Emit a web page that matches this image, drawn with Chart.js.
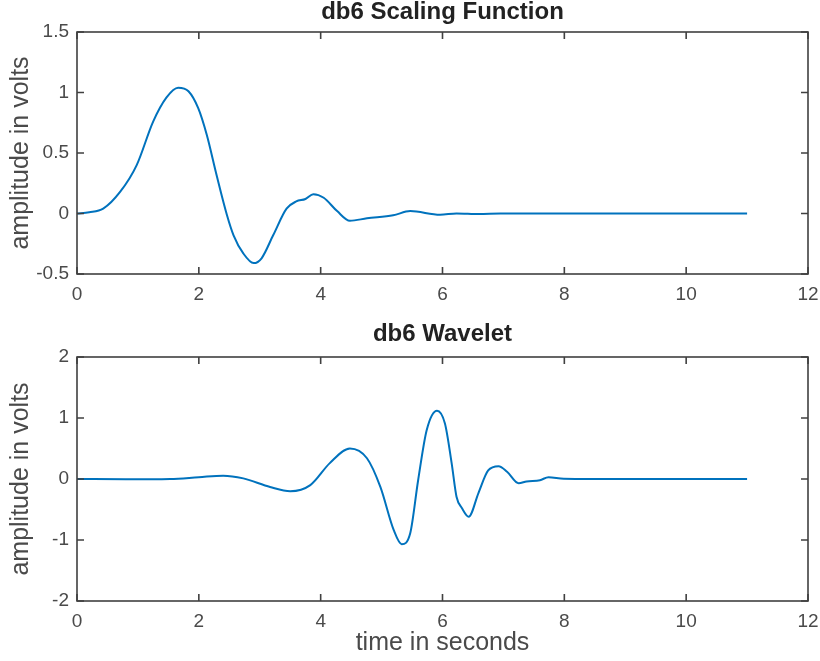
<!DOCTYPE html>
<html>
<head>
<meta charset="utf-8">
<script src="https://cdn.jsdelivr.net/npm/chart.js@4"></script>
<style>
  html, body { margin: 0; padding: 0; background: #fff; }
  .plot { position: absolute; left: 0; width: 820px; }
</style>
</head>
<body>
<div class="plot" style="top:0;height:320px"><canvas id="scaling" width="820" height="320"></canvas></div>
<div class="plot" style="top:320px;height:341px"><canvas id="wavelet" width="820" height="341"></canvas></div>
<script>
// db6 scaling function (phi)
const phiTime = [0, 0.2, 0.43, 0.71, 0.98, 1.25, 1.47, 1.66, 1.83, 1.99, 2.13, 2.29, 2.46, 2.57, 2.73, 2.9, 3.03, 3.22, 3.44, 3.6, 3.75, 3.88, 4.05, 4.27, 4.48, 4.76, 5.19, 5.47, 5.96, 6.23, 6.6, 6.95, 8, 9, 10, 11]
const phiAmp = [0, 0.01, 0.04, 0.18, 0.40, 0.76, 0.96, 1.04, 1.01, 0.87, 0.65, 0.32, -0.01, -0.18, -0.33, -0.41, -0.37, -0.18, 0.04, 0.10, 0.12, 0.16, 0.13, 0.02, -0.06, -0.04, -0.015, 0.02, -0.01, 0, -0.005, 0, 0, 0, 0, 0]

// db6 wavelet (psi)
const psiTime = [0, 0.8, 1.53, 2.0, 2.4, 2.73, 3.17, 3.5, 3.83, 4.15, 4.48, 4.76, 4.98, 5.2, 5.33, 5.47, 5.6, 5.74, 5.91, 6.04, 6.15, 6.23, 6.32, 6.43, 6.59, 6.75, 6.92, 7.06, 7.25, 7.38, 7.6, 7.74, 7.99, 9, 10, 11]
const psiAmp = [0, -0.005, 0, 0.03, 0.055, 0.01, -0.13, -0.2, -0.1, 0.26, 0.50, 0.34, -0.13, -0.84, -1.07, -0.89, -0.02, 0.80, 1.12, 0.91, 0.26, -0.29, -0.48, -0.62, -0.23, 0.14, 0.21, 0.12, -0.07, -0.04, -0.02, 0.03, 0.005, 0, 0, 0]

const xTicks = [0, 2, 4, 6, 8, 10, 12]
const phiTicks = [-0.5, 0, 0.5, 1, 1.5]
const psiTicks = [-2, -1, 0, 1, 2]

const lineColor = '#0072BD'
const axisColor = '#404040'
const textColor = '#4a4a4a'
const fontFamily = '"Liberation Sans", Arial, Helvetica, sans-serif'

// matlab-like box with inward ticks on all four sides
const boxPlugin = {
  id: 'box',
  afterDraw(chart) {
    const {ctx, chartArea: a, scales: {x, y}} = chart
    const len = 7
    ctx.save()
    ctx.strokeStyle = axisColor
    ctx.lineWidth = 1.6
    ctx.strokeRect(a.left, a.top, a.width, a.height)
    ctx.beginPath()
    x.ticks.forEach(t => {
      const px = x.getPixelForValue(t.value)
      ctx.moveTo(px, a.bottom); ctx.lineTo(px, a.bottom - len)
      ctx.moveTo(px, a.top); ctx.lineTo(px, a.top + len)
    })
    y.ticks.forEach(t => {
      const py = y.getPixelForValue(t.value)
      ctx.moveTo(a.left, py); ctx.lineTo(a.left + len, py)
      ctx.moveTo(a.right, py); ctx.lineTo(a.right - len, py)
    })
    ctx.stroke()
    ctx.restore()
  }
}

function makePlot(canvas, title, times, amps, yTicks, opts) {
  return new Chart(canvas, {
    type: 'line',
    data: {
      datasets: [{
        data: times.map((t, i) => ({x: t, y: amps[i]})),
        borderColor: lineColor,
        borderWidth: 2,
        pointRadius: 0,
        fill: false,
        cubicInterpolationMode: 'monotone'
      }]
    },
    options: {
      responsive: false,
      animation: false,
      devicePixelRatio: 1,
      layout: {padding: {left: 0, right: 12, top: 0, bottom: 0}},
      plugins: {
        legend: {display: false},
        tooltip: {enabled: false},
        title: {
          display: true,
          text: title,
          fullSize: false,
          color: '#222',
          font: {family: fontFamily, size: 24, weight: 'bold', lineHeight: 1},
          padding: {top: opts.titleTop, bottom: opts.titleBottom}
        }
      },
      scales: {
        x: {
          type: 'linear',
          min: 0, max: 12,
          grid: {display: false, drawTicks: false},
          border: {display: false},
          afterBuildTicks: s => { s.ticks = xTicks.map(v => ({value: v})) },
          afterFit: s => { s.height = opts.xHeight; s.paddingLeft = 0; s.paddingRight = 0 },
          ticks: {
            color: textColor,
            padding: 9,
            maxRotation: 0,
            font: {family: fontFamily, size: 19},
            callback: v => String(v)
          },
          title: {
            display: !!opts.xTitle,
            text: opts.xTitle || '',
            color: textColor,
            font: {family: fontFamily, size: 25},
            padding: {top: 0, bottom: 3}
          }
        },
        y: {
          type: 'linear',
          min: yTicks[0], max: yTicks[yTicks.length - 1],
          grid: {display: false, drawTicks: false},
          border: {display: false},
          afterBuildTicks: s => { s.ticks = yTicks.map(v => ({value: v})) },
          afterFit: s => { s.width = 77 },
          ticks: {
            color: textColor,
            padding: 8,
            font: {family: fontFamily, size: 19},
            callback: v => String(v)
          },
          title: {
            display: true,
            text: 'amplitude in volts',
            color: textColor,
            font: {family: fontFamily, size: 25},
            padding: {top: 6, bottom: 0}
          }
        }
      }
    },
    plugins: [boxPlugin]
  })
}

makePlot(document.getElementById('scaling'), 'db6 Scaling Function', phiTime, phiAmp, phiTicks,
  {titleTop: 0, titleBottom: 8, xHeight: 46})
makePlot(document.getElementById('wavelet'), 'db6 Wavelet', psiTime, psiAmp, psiTicks,
  {titleTop: 2, titleBottom: 11, xHeight: 60, xTitle: 'time in seconds'})
</script>
</body>
</html>
